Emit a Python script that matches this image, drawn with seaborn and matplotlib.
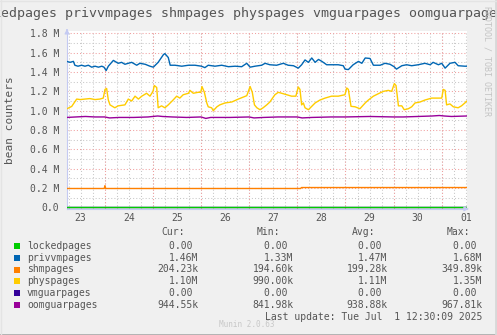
import numpy as np
import pandas as pd
import matplotlib
matplotlib.use("Agg")
import matplotlib.pyplot as plt
import seaborn as sns
from matplotlib.ticker import MultipleLocator, FixedLocator, FixedFormatter
from matplotlib.patches import Rectangle
from matplotlib.lines import Line2D

# ---------------- data (time in day-of-month units, values in millions) ----------------
series_names = ["lockedpages", "privvmpages", "shmpages", "physpages", "vmguarpages", "oomguarpages"]
series_colors = ["#00CC00", "#0066B3", "#FF8000", "#FFCC00", "#330099", "#990099"]

locked_t = [23.21, 31.52]
locked_v = [0.0, 0.0]

vmguar_t = [23.21, 31.52]
vmguar_v = [0.0, 0.0]

shm_t = [23.21, 23.99, 24.005, 24.02, 28.07, 28.085, 31.52]
shm_v = [0.195, 0.195, 0.225, 0.195, 0.195, 0.205, 0.205]

oom_t = [23.21, 23.4, 23.6, 23.8, 24.0, 24.1, 24.3, 24.6, 24.9, 25.1, 25.2, 25.4, 25.7,
         26.0, 26.1, 26.2, 26.6, 27.0, 27.1, 27.3, 27.6, 28.0, 28.1, 28.3, 28.7, 29.0,
         29.5, 30.0, 30.2, 30.5, 30.8, 30.95, 31.05, 31.2, 31.52]
oom_v = [0.93, 0.935, 0.94, 0.935, 0.935, 0.925, 0.93, 0.93, 0.935, 0.945, 0.94, 0.935, 0.93,
         0.935, 0.92, 0.93, 0.93, 0.935, 0.925, 0.93, 0.935, 0.935, 0.925, 0.93, 0.935, 0.935,
         0.94, 0.935, 0.935, 0.94, 0.945, 0.95, 0.945, 0.94, 0.945]

phys_t = [23.217, 23.315, 23.418, 23.49, 23.59, 23.69, 23.80, 23.90, 23.97, 24.006, 24.04,
          24.075, 24.11, 24.21, 24.28, 24.42, 24.49, 24.56, 24.63, 24.70, 24.77, 24.87, 24.94,
          25.003, 25.03, 25.08, 25.11, 25.18, 25.25, 25.32, 25.42, 25.495, 25.56, 25.63, 25.74,
          25.77, 25.84, 25.94, 25.995, 26.02, 26.07, 26.12, 26.15, 26.22, 26.255, 26.33, 26.39,
          26.50, 26.64, 26.775, 26.95, 27.02, 27.065, 27.11, 27.16, 27.225, 27.29, 27.365,
          27.43, 27.535, 27.605, 27.675, 27.78, 27.88, 27.97, 28.02, 28.055, 28.09, 28.125,
          28.16, 28.23, 28.30, 28.37, 28.47, 28.575, 28.71, 28.85, 28.99, 29.026, 29.06,
          29.115, 29.20, 29.30, 29.41, 29.475, 29.58, 29.68, 29.79, 29.89, 29.96, 30.015,
          30.05, 30.10, 30.17, 30.22, 30.305, 30.375, 30.445, 30.55, 30.65, 30.79, 30.93,
          31.00, 31.03, 31.07, 31.10, 31.17, 31.24, 31.34, 31.41, 31.48, 31.52]
phys_v = [1.02, 1.044, 1.12, 1.115, 1.12, 1.125, 1.115, 1.12, 1.13, 1.22, 1.23,
          1.11, 1.06, 1.03, 1.05, 1.06, 1.12, 1.10, 1.15, 1.12, 1.15, 1.18, 1.15,
          1.20, 1.26, 1.24, 1.03, 1.05, 1.03, 1.06, 1.11, 1.15, 1.13, 1.165, 1.18,
          1.21, 1.18, 1.19, 1.19, 1.25, 1.19, 1.08, 1.04, 1.03, 1.00, 1.04, 1.06,
          1.08, 1.09, 1.12, 1.155, 1.25, 1.19, 1.06, 1.03, 1.01, 1.03, 1.06,
          1.09, 1.165, 1.19, 1.18, 1.165, 1.15, 1.15, 1.245, 1.22, 1.06, 1.08,
          1.03, 1.01, 1.045, 1.08, 1.11, 1.13, 1.15, 1.15, 1.165, 1.235, 1.22,
          1.045, 1.04, 1.02, 1.08, 1.11, 1.15, 1.175, 1.20, 1.21, 1.20, 1.28,
          1.26, 1.05, 1.05, 1.01, 1.02, 1.04, 1.08, 1.09, 1.11, 1.13, 1.13,
          1.13, 1.22, 1.21, 1.06, 1.07, 1.04, 1.03, 1.05, 1.08, 1.10]

privvm_t = [23.21, 23.28, 23.35, 23.38, 23.445, 23.52, 23.59, 23.66, 23.73, 23.80, 23.87,
            23.94, 23.985, 24.03, 24.075, 24.18, 24.28, 24.35, 24.42, 24.49, 24.56, 24.665,
            24.73, 24.84, 24.94, 25.01, 25.11, 25.22, 25.25, 25.32, 25.36, 25.46, 25.60,
            25.74, 25.875, 26.01, 26.08, 26.15, 26.29, 26.43, 26.57, 26.71, 26.845, 26.95,
            27.02, 27.12, 27.26, 27.33, 27.43, 27.57, 27.71, 27.81, 27.92, 28.02, 28.09,
            28.16, 28.23, 28.30, 28.37, 28.44, 28.51, 28.61, 28.71, 28.85, 28.955, 28.99,
            29.06, 29.16, 29.27, 29.34, 29.41, 29.51, 29.58, 29.72, 29.82, 29.925, 30.01,
            30.06, 30.17, 30.27, 30.375, 30.51, 30.65, 30.76, 30.82, 30.93, 31.00, 31.07,
            31.17, 31.275, 31.34, 31.48, 31.52]
privvm_v = [1.51, 1.50, 1.51, 1.47, 1.46, 1.47, 1.46, 1.47, 1.45, 1.46, 1.45,
            1.46, 1.45, 1.415, 1.46, 1.52, 1.49, 1.50, 1.48, 1.49, 1.50, 1.47,
            1.49, 1.48, 1.46, 1.45, 1.50, 1.58, 1.59, 1.55, 1.47, 1.47, 1.46,
            1.47, 1.47, 1.46, 1.445, 1.47, 1.46, 1.47, 1.455, 1.46, 1.455, 1.49,
            1.45, 1.46, 1.47, 1.49, 1.475, 1.47, 1.49, 1.47, 1.465, 1.44, 1.475,
            1.525, 1.50, 1.545, 1.50, 1.53, 1.51, 1.475, 1.475, 1.475, 1.465, 1.43,
            1.425, 1.475, 1.51, 1.49, 1.545, 1.54, 1.47, 1.47, 1.49, 1.48, 1.455,
            1.43, 1.465, 1.475, 1.465, 1.475, 1.49, 1.475, 1.50, 1.475, 1.49, 1.44,
            1.49, 1.50, 1.465, 1.46, 1.46]

x_tick_days = [23, 24, 25, 26, 27, 28, 29, 30, 31]
x_tick_labels = ["23", "24", "25", "26", "27", "28", "29", "30", "01"]
y_tick_values = [0.0, 0.2, 0.4, 0.6, 0.8, 1.0, 1.2, 1.4, 1.6, 1.8]
y_tick_labels = ["0.0", "0.2 M", "0.4 M", "0.6 M", "0.8 M", "1.0 M", "1.2 M", "1.4 M", "1.6 M", "1.8 M"]

cur_vals = ["0.00 ", "1.46M", "204.23k", "1.10M", "0.00 ", "944.55k"]
min_vals = ["0.00 ", "1.33M", "194.60k", "990.00k", "0.00 ", "841.98k"]
avg_vals = ["0.00 ", "1.47M", "199.28k", "1.11M", "0.00 ", "938.88k"]
max_vals = ["0.00 ", "1.68M", "349.89k", "1.35M", "0.00 ", "967.81k"]

title_text = "lockedpages privvmpages shmpages physpages vmguarpages oomguarpages"
last_update = "Last update: Tue Jul  1 12:30:09 2025"

# ---------------- build long table ----------------
frames = []
for name, t, v in [("lockedpages", locked_t, locked_v), ("privvmpages", privvm_t, privvm_v),
                   ("shmpages", shm_t, shm_v), ("physpages", phys_t, phys_v),
                   ("vmguarpages", vmguar_t, vmguar_v), ("oomguarpages", oom_t, oom_v)]:
    frames.append(pd.DataFrame({"day": t, "value": v, "series": name}))
df = pd.concat(frames, ignore_index=True)
palette = dict(zip(series_names, series_colors))

# ---------------- figure ----------------
sns.set_theme(style="white")
plt.rcParams['font.family'] = ['DejaVu Sans Mono']

W, H = 497, 335
fig = plt.figure(figsize=(W / 100, H / 100), dpi=100, facecolor="#F0F0F0")


def fx(x):
    return x / W


def fy(y):
    return 1 - y / H


TXT = "#555555"
ax = fig.add_axes([fx(67), fy(208.8), fx(400), (208.8 - 31.4) / H])
ax.set_facecolor("white")

draw_order = ["vmguarpages", "lockedpages", "shmpages", "oomguarpages", "physpages", "privvmpages"]
sns.lineplot(data=df, x="day", y="value", hue="series", hue_order=draw_order, palette=palette,
             estimator=None, sort=False, legend=False, linewidth=1.0, ax=ax, zorder=3)

ax.set_xlim(23.217, 31.524)
ax.set_ylim(-0.015, 1.82)

# grids
ax.xaxis.set_major_locator(FixedLocator([d + 0.5 for d in x_tick_days]))
ax.xaxis.set_major_formatter(FixedFormatter(x_tick_labels))
ax.xaxis.set_minor_locator(MultipleLocator(0.25))
ax.xaxis.remove_overlapping_locs = False
ax.yaxis.set_major_locator(FixedLocator(y_tick_values))
ax.yaxis.set_major_formatter(FixedFormatter(y_tick_labels))
ax.yaxis.set_minor_locator(MultipleLocator(0.1))

dot = (0, (1, 2))
ax.grid(which="minor", axis="both", color="#C8C8C8", linestyle=dot, linewidth=0.75, zorder=0)
ax.grid(which="major", axis="y", color="#F0A0A0", linestyle=dot, linewidth=0.75, zorder=1)
ax.grid(which="major", axis="x", visible=False)
for d in x_tick_days[1:]:
    ax.axvline(d, color="#F0A0A0", linestyle=dot, linewidth=0.75, zorder=1)
ax.set_axisbelow(True)

ax.tick_params(axis="both", which="both", length=0)
ax.tick_params(axis="y", which="major", labelsize=7, labelcolor=TXT, pad=5.5)
ax.tick_params(axis="x", which="major", labelsize=7, labelcolor=TXT, pad=3)
ax.set_xlabel("")
ax.set_ylabel("")

for s in ["top", "right"]:
    ax.spines[s].set_visible(False)
for s in ["left", "bottom"]:
    ax.spines[s].set_color("#C4CAF2")
    ax.spines[s].set_linewidth(0.8)

ax.annotate("", xy=(1.012, 0), xytext=(0.99, 0), xycoords="axes fraction",
            arrowprops=dict(arrowstyle="-|>", color="#C4CAF2", lw=0.8, mutation_scale=7),
            annotation_clip=False)
ax.annotate("", xy=(0, 1.03), xytext=(0, 0.99), xycoords="axes fraction",
            arrowprops=dict(arrowstyle="-|>", color="#C4CAF2", lw=0.8, mutation_scale=7),
            annotation_clip=False)

# texts
fig.text(fx(237), fy(14), title_text, fontsize=9.5, color=TXT, ha="center", va="center")
fig.text(fx(10), fy(120), "bean counters", fontsize=8, color=TXT, ha="center", va="center",
         rotation=90)
fig.text(fx(487), fy(61), "RRDTOOL / TOBI OETIKER", fontsize=6, color="#C4C4C4",
         ha="center", va="center", rotation=-90)

# legend table
fs = 7
hdr_y = 232
for label, xr in [("Cur:", 185), ("Min:", 280), ("Avg:", 375), ("Max:", 470)]:
    fig.text(fx(xr), fy(hdr_y), label, fontsize=fs, color=TXT, ha="right", va="center")

row_y = [245.7, 257.7, 269.5, 281.4, 293.4, 305.3]
for i, name in enumerate(series_names):
    y = row_y[i]
    fig.add_artist(Rectangle((fx(14), fy(y + 3)), 6 / W, 6 / H, transform=fig.transFigure,
                             facecolor=series_colors[i], edgecolor="none"))
    fig.text(fx(27), fy(y), name, fontsize=fs, color=TXT, ha="left", va="center")
    for vals, xr in [(cur_vals, 198.5), (min_vals, 293.5), (avg_vals, 387.5), (max_vals, 482.5)]:
        fig.text(fx(xr), fy(y), vals[i], fontsize=fs, color=TXT, ha="right", va="center")

fig.text(fx(482.5), fy(317.3), last_update, fontsize=fs, color=TXT, ha="right", va="center")
fig.text(fx(247), fy(324.8), "Munin 2.0.63", fontsize=5.5, color="#C8C8C8", ha="center", va="center")

# frame
fig.add_artist(Line2D([0, 1], [fy(334.5), fy(334.5)], transform=fig.transFigure, color="#A8A8A8", lw=1.2, zorder=10))
fig.add_artist(Line2D([fx(496), fx(496)], [0, 1], transform=fig.transFigure, color="#D8D8D8", lw=2.0, zorder=10))
fig.add_artist(Line2D([0, 1], [fy(0.5), fy(0.5)], transform=fig.transFigure, color="#E4E4E4", lw=1, zorder=10))
fig.add_artist(Line2D([fx(0.5), fx(0.5)], [0, 1], transform=fig.transFigure, color="#E4E4E4", lw=1, zorder=10))

fig.savefig("out.png", dpi=100, facecolor=fig.get_facecolor())
